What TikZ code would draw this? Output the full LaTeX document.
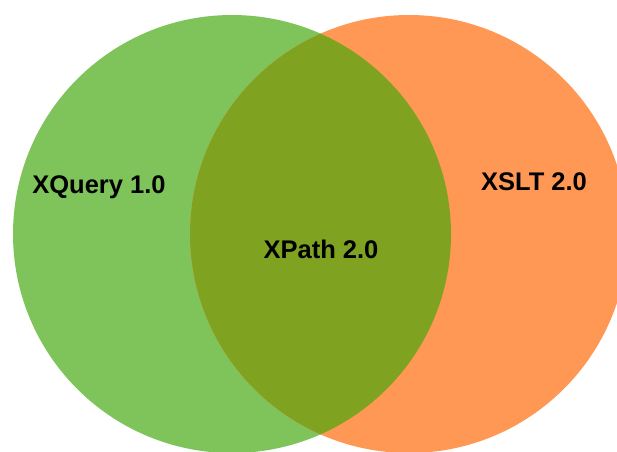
\documentclass[tikz,border=0pt]{standalone}
\usepackage{fontspec}
\setmainfont{Liberation Sans}
\usepackage{xcolor}
\definecolor{xqgreen}{RGB}{126,196,90}
\definecolor{xsorange}{RGB}{255,152,85}
\definecolor{xpolive}{RGB}{127,162,33}

\begin{document}
\begin{tikzpicture}[x=1pt, y=-1pt,
    lbl/.style={anchor=base, font=\fontsize{25.5}{30}\selectfont\bfseries, text=black, inner sep=0pt}]
        \useasboundingbox (0,0) rectangle (617,451);
        \clip (0,0) rectangle (617,451);
        \fill[xqgreen] (232,234) circle (219);
        \fill[xsorange] (409,234) circle (219);
        \begin{scope}
            \clip (232,234) circle (219);
            \fill[xpolive] (409,234) circle (219);
        \end{scope}
        \node[lbl] (xquery) at (99,193) {XQuery 1.0};
        \node[lbl] (xslt) at (534,190) {XSLT 2.0};
        \node[lbl] (xpath) at (321,258) {XPath 2.0};
    \end{tikzpicture}
\end{document}
